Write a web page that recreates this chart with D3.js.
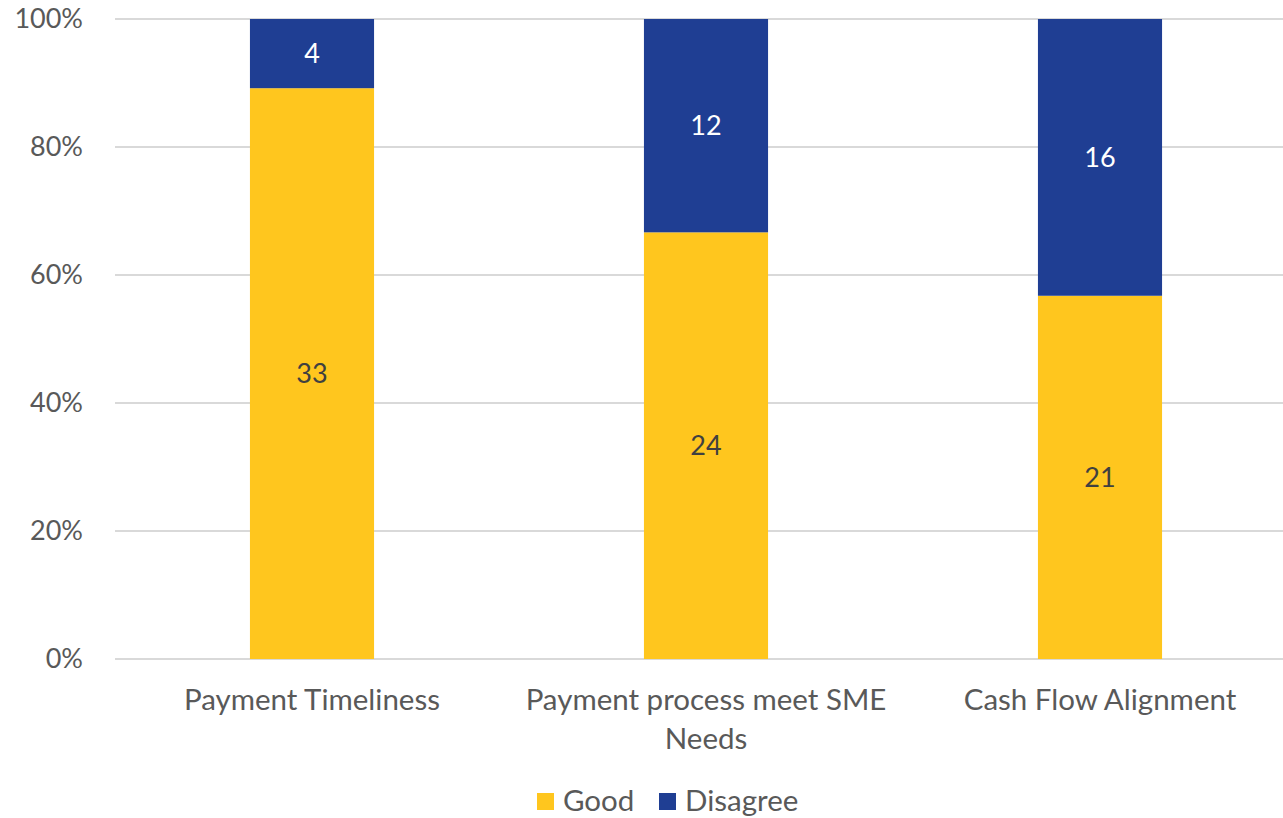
<!DOCTYPE html>
<html>
<head>
<meta charset="utf-8">
<script src="https://cdn.jsdelivr.net/npm/d3@7"></script>
<style>
  body { margin: 0; background: #fff; }
  text { font-family: Lato, "Open Sans", sans-serif; }
</style>
</head>
<body>
<div id="chart"></div>
<script>
const categories = ["Payment Timeliness", "Payment process meet SME Needs", "Cash Flow Alignment"];
const categoryLines = [["Payment Timeliness"], ["Payment process meet SME", "Needs"], ["Cash Flow Alignment"]];
const good = [33, 24, 21];
const disagree = [4, 12, 16];
const seriesNames = ["Good", "Disagree"];
const seriesColors = ["#FFC61E", "#1F3E93"];
const yTicks = [0, 0.2, 0.4, 0.6, 0.8, 1];

const width = 1283, height = 818;
const margin = { top: 19, left: 115, bottom: 159 };
const numSize = "27px";   // digits
const wordSize = "29.5px"; // words

const svg = d3.select("#chart").append("svg")
    .attr("width", width)
    .attr("height", height);

const x = d3.scaleBand()
    .domain(categories)
    .range([margin.left, margin.left + 394 * 3])
    .paddingInner(0.685)
    .paddingOuter(0.3425);

const y = d3.scaleLinear()
    .domain([0, 1])
    .range([height - margin.bottom, margin.top]);

// gridlines
svg.append("g")
    .selectAll("line")
    .data(yTicks)
    .enter()
    .append("line")
    .attr("x1", margin.left)
    .attr("x2", width)
    .attr("y1", d => y(d))
    .attr("y2", d => y(d))
    .attr("stroke", "#d9d9d9")
    .attr("stroke-width", 2);

// y tick labels
svg.append("g")
    .selectAll("text")
    .data(yTicks)
    .enter()
    .append("text")
    .attr("x", 83)
    .attr("y", d => y(d))
    .attr("dy", "0.35em")
    .attr("text-anchor", "end")
    .style("font-size", numSize)
    .style("fill", "#595959")
    .text(d => d3.format(".0%")(d));

// stack the two series as shares of the total
const rows = categories.map((c, i) => ({ cat: c, Good: good[i], Disagree: disagree[i] }));
const stacked = d3.stack()
    .keys(seriesNames)
    .offset(d3.stackOffsetExpand)(rows);

stacked.forEach((layer, li) => {
    const g = svg.append("g");
    g.selectAll("rect")
        .data(layer)
        .enter()
        .append("rect")
        .attr("x", d => x(d.data.cat))
        .attr("width", x.bandwidth())
        .attr("y", d => y(d[1]))
        .attr("height", d => y(d[0]) - y(d[1]))
        .attr("fill", seriesColors[li]);

    g.selectAll("text")
        .data(layer)
        .enter()
        .append("text")
        .attr("x", d => x(d.data.cat) + x.bandwidth() / 2)
        .attr("y", d => (y(d[0]) + y(d[1])) / 2)
        .attr("dy", "0.35em")
        .attr("text-anchor", "middle")
        .style("font-size", numSize)
        .style("fill", li === 0 ? "#404040" : "#ffffff")
        .text(d => d.data[seriesNames[li]]);
});

// category labels
categoryLines.forEach((lines, i) => {
    const t = svg.append("text")
        .attr("x", x(categories[i]) + x.bandwidth() / 2)
        .attr("y", 710)
        .attr("text-anchor", "middle")
        .style("font-size", wordSize)
        .style("fill", "#595959");
    lines.forEach((ln, j) => {
        t.append("tspan")
            .attr("x", x(categories[i]) + x.bandwidth() / 2)
            .attr("dy", j === 0 ? 0 : 39)
            .text(ln);
    });
});

// legend
const legendX = [537, 659];
const legend = svg.append("g");
seriesNames.forEach((name, i) => {
    legend.append("rect")
        .attr("x", legendX[i])
        .attr("y", 793)
        .attr("width", 17)
        .attr("height", 17)
        .attr("fill", seriesColors[i]);
    legend.append("text")
        .attr("x", legendX[i] + 26)
        .attr("y", 811)
        .style("font-size", wordSize)
        .style("fill", "#595959")
        .text(name);
});
</script>
</body>
</html>
